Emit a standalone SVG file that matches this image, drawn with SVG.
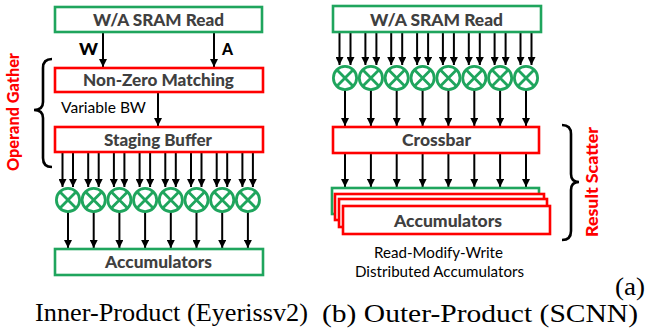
<svg xmlns="http://www.w3.org/2000/svg" width="647" height="331" viewBox="0 0 647 331">
<defs>
<marker id="ah" markerWidth="8" markerHeight="8" refX="8" refY="4" orient="auto" markerUnits="userSpaceOnUse"><path d="M0,0 L8,4 L0,8 z" fill="#000"/></marker>
<g id="mul"><circle r="11.6" fill="#fff" stroke="#1fa55d" stroke-width="2.8"/><path d="M-8.2,-8.2 L8.2,8.2 M-8.2,8.2 L8.2,-8.2" stroke="#1fa55d" stroke-width="2.8"/></g>
</defs>
<style>
.g{fill:#fff;stroke:#1fa55d;stroke-width:2.6}
.r{fill:#fff;stroke:#ff0000;stroke-width:2.6}
.lb{font-family:Lato,"Open Sans",sans-serif;font-weight:900;font-size:17px;fill:#404040}
.tx{font-family:Lato,"Open Sans",sans-serif;font-size:15px;fill:#000}
.rt{font-family:Lato,"Open Sans",sans-serif;font-weight:900;font-size:16px;fill:#ff0000}
.cap{font-family:"Liberation Serif","Times New Roman",serif;font-size:25px;fill:#000}
.ar{stroke:#000;stroke-width:2;marker-end:url(#ah)}
.br{fill:none;stroke:#000;stroke-width:2.6}
</style>
<rect width="647" height="331" fill="#fff"/>

<g id="connectors">
<line class="ar" x1="103" y1="32" x2="103" y2="67"/>
<line class="ar" x1="214" y1="32" x2="214" y2="67"/>
<line class="ar" x1="158" y1="92" x2="158" y2="126"/>
<line class="ar" x1="62.5" y1="153" x2="62.5" y2="187"/><line class="ar" x1="73" y1="153" x2="73" y2="187"/>
<line class="ar" x1="88.2" y1="153" x2="88.2" y2="187"/><line class="ar" x1="98.7" y1="153" x2="98.7" y2="187"/>
<line class="ar" x1="113.9" y1="153" x2="113.9" y2="187"/><line class="ar" x1="124.4" y1="153" x2="124.4" y2="187"/>
<line class="ar" x1="139.6" y1="153" x2="139.6" y2="187"/><line class="ar" x1="150.1" y1="153" x2="150.1" y2="187"/>
<line class="ar" x1="165.3" y1="153" x2="165.3" y2="187"/><line class="ar" x1="175.8" y1="153" x2="175.8" y2="187"/>
<line class="ar" x1="191" y1="153" x2="191" y2="187"/><line class="ar" x1="201.5" y1="153" x2="201.5" y2="187"/>
<line class="ar" x1="216.7" y1="153" x2="216.7" y2="187"/><line class="ar" x1="227.2" y1="153" x2="227.2" y2="187"/>
<line class="ar" x1="242.4" y1="153" x2="242.4" y2="187"/><line class="ar" x1="252.9" y1="153" x2="252.9" y2="187"/>
<line class="ar" x1="68" y1="212" x2="68" y2="248"/>
<line class="ar" x1="93.7" y1="212" x2="93.7" y2="248"/>
<line class="ar" x1="119.4" y1="212" x2="119.4" y2="248"/>
<line class="ar" x1="145.1" y1="212" x2="145.1" y2="248"/>
<line class="ar" x1="170.8" y1="212" x2="170.8" y2="248"/>
<line class="ar" x1="196.5" y1="212" x2="196.5" y2="248"/>
<line class="ar" x1="222.2" y1="212" x2="222.2" y2="248"/>
<line class="ar" x1="247.9" y1="212" x2="247.9" y2="248"/>

<line class="ar" x1="339.5" y1="32" x2="339.5" y2="65"/><line class="ar" x1="350.5" y1="32" x2="350.5" y2="65"/>
<line class="ar" x1="365.4" y1="32" x2="365.4" y2="65"/><line class="ar" x1="376.4" y1="32" x2="376.4" y2="65"/>
<line class="ar" x1="391.2" y1="32" x2="391.2" y2="65"/><line class="ar" x1="402.2" y1="32" x2="402.2" y2="65"/>
<line class="ar" x1="417.1" y1="32" x2="417.1" y2="65"/><line class="ar" x1="428.1" y1="32" x2="428.1" y2="65"/>
<line class="ar" x1="442.9" y1="32" x2="442.9" y2="65"/><line class="ar" x1="453.9" y1="32" x2="453.9" y2="65"/>
<line class="ar" x1="468.8" y1="32" x2="468.8" y2="65"/><line class="ar" x1="479.8" y1="32" x2="479.8" y2="65"/>
<line class="ar" x1="494.6" y1="32" x2="494.6" y2="65"/><line class="ar" x1="505.6" y1="32" x2="505.6" y2="65"/>
<line class="ar" x1="520.5" y1="32" x2="520.5" y2="65"/><line class="ar" x1="531.5" y1="32" x2="531.5" y2="65"/>
<line class="ar" x1="345" y1="90" x2="345" y2="126"/>
<line class="ar" x1="370.9" y1="90" x2="370.9" y2="126"/>
<line class="ar" x1="396.7" y1="90" x2="396.7" y2="126"/>
<line class="ar" x1="422.6" y1="90" x2="422.6" y2="126"/>
<line class="ar" x1="448.4" y1="90" x2="448.4" y2="126"/>
<line class="ar" x1="474.3" y1="90" x2="474.3" y2="126"/>
<line class="ar" x1="500.1" y1="90" x2="500.1" y2="126"/>
<line class="ar" x1="526" y1="90" x2="526" y2="126"/>
<line class="ar" x1="345" y1="153" x2="345" y2="187"/>
<line class="ar" x1="370.9" y1="153" x2="370.9" y2="187"/>
<line class="ar" x1="396.7" y1="153" x2="396.7" y2="187"/>
<line class="ar" x1="422.6" y1="153" x2="422.6" y2="187"/>
<line class="ar" x1="448.4" y1="153" x2="448.4" y2="187"/>
<line class="ar" x1="474.3" y1="153" x2="474.3" y2="187"/>
<line class="ar" x1="500.1" y1="153" x2="500.1" y2="187"/>
<line class="ar" x1="526" y1="153" x2="526" y2="187"/>
</g>

<g id="left-sram"><rect class="g" x="55" y="7" width="207" height="25"/><text class="lb" x="158.5" y="25.5" text-anchor="middle" textLength="131" lengthAdjust="spacingAndGlyphs">W/A SRAM Read</text></g>
<g id="label-w"><text class="lb" x="79" y="55" style="fill:#000" textLength="19" lengthAdjust="spacingAndGlyphs">W</text></g>
<g id="label-a"><text class="lb" x="222" y="55" style="fill:#000" textLength="11" lengthAdjust="spacingAndGlyphs">A</text></g>
<g id="nonzero"><rect class="r" x="55" y="68" width="208" height="24"/><text class="lb" x="158.5" y="86" text-anchor="middle" textLength="151" lengthAdjust="spacingAndGlyphs">Non-Zero Matching</text></g>
<g id="varbw"><text class="tx" x="61" y="113" textLength="85" lengthAdjust="spacingAndGlyphs">Variable BW</text></g>
<g id="staging"><rect class="r" x="55" y="127" width="208" height="25"/><text class="lb" x="158" y="146" text-anchor="middle" textLength="108" lengthAdjust="spacingAndGlyphs">Staging Buffer</text></g>
<g id="left-mults">
<use href="#mul" x="68" y="200"/><use href="#mul" x="93.7" y="200"/><use href="#mul" x="119.4" y="200"/><use href="#mul" x="145.1" y="200"/>
<use href="#mul" x="170.8" y="200"/><use href="#mul" x="196.5" y="200"/><use href="#mul" x="222.2" y="200"/><use href="#mul" x="247.9" y="200"/>
</g>
<g id="left-acc"><rect class="g" x="55" y="249" width="208" height="26"/><text class="lb" x="158.5" y="267.5" text-anchor="middle" textLength="107" lengthAdjust="spacingAndGlyphs">Accumulators</text></g>
<g id="operand-gather">
<path class="br" d="M52,59 Q43,59 43,68 L43,102 Q43,110 34,110 Q43,110 43,118 L43,158 Q43,167 52,167"/>
<text class="rt" transform="translate(19,112) rotate(-90)" text-anchor="middle" textLength="118" lengthAdjust="spacingAndGlyphs">Operand Gather</text>
</g>

<g id="right-sram"><rect class="g" x="333" y="6" width="208" height="26"/><text class="lb" x="436.5" y="25.5" text-anchor="middle" textLength="133" lengthAdjust="spacingAndGlyphs">W/A SRAM Read</text></g>
<g id="right-mults">
<use href="#mul" x="345" y="78"/><use href="#mul" x="370.9" y="78"/><use href="#mul" x="396.7" y="78"/><use href="#mul" x="422.6" y="78"/>
<use href="#mul" x="448.4" y="78"/><use href="#mul" x="474.3" y="78"/><use href="#mul" x="500.1" y="78"/><use href="#mul" x="526" y="78"/>
</g>
<g id="crossbar"><rect class="r" x="333" y="127" width="206" height="26"/><text class="lb" x="436.5" y="146" text-anchor="middle" textLength="69" lengthAdjust="spacingAndGlyphs">Crossbar</text></g>
<g id="right-acc">
<rect class="g" x="332" y="188" width="207" height="26"/>
<rect class="r" x="335" y="194" width="209" height="26"/>
<rect class="r" x="339" y="199" width="208" height="28"/>
<rect class="r" x="343" y="206" width="207" height="28"/>
<text class="lb" x="448" y="226.5" text-anchor="middle" textLength="108" lengthAdjust="spacingAndGlyphs">Accumulators</text>
</g>
<g id="rmw"><text class="tx" x="438.5" y="258" text-anchor="middle" textLength="129" lengthAdjust="spacingAndGlyphs">Read-Modify-Write</text><text class="tx" x="439.5" y="277" text-anchor="middle" textLength="169" lengthAdjust="spacingAndGlyphs">Distributed Accumulators</text></g>
<g id="result-scatter">
<path class="br" d="M562,125 Q571,125 571,134 L571,174 Q571,182 579,182 Q571,182 571,190 L571,231 Q571,240 562,240"/>
<text class="rt" transform="translate(598,182) rotate(-90)" text-anchor="middle" textLength="110" lengthAdjust="spacingAndGlyphs">Result Scatter</text>
</g>

<g id="captions">
<text class="cap" x="615" y="295" textLength="30" lengthAdjust="spacingAndGlyphs">(a)</text>
<text class="cap" x="35" y="321" textLength="273" lengthAdjust="spacingAndGlyphs">Inner-Product (Eyerissv2)</text>
<text class="cap" x="322" y="322" textLength="316" lengthAdjust="spacingAndGlyphs">(b) Outer-Product (SCNN)</text>
</g>
</svg>
